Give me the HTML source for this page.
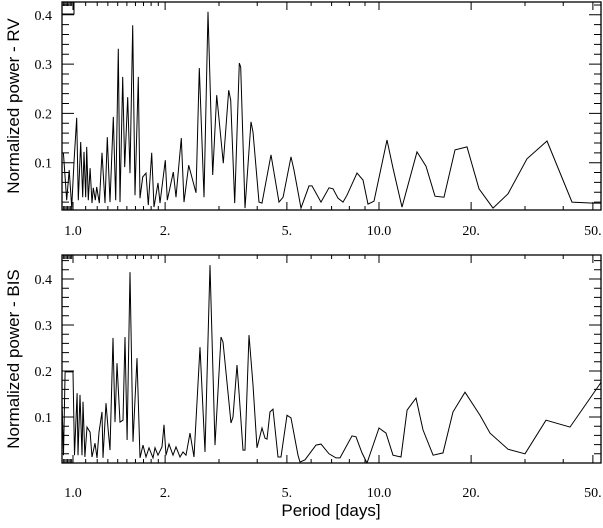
<!DOCTYPE html>
<html><head><meta charset="utf-8">
<style>
html,body{margin:0;padding:0;background:#fff;}
svg{display:block;}
.tl{font-family:"Liberation Serif",serif;font-size:14px;fill:#000;}
.tt{font-family:"Liberation Sans",sans-serif;font-size:17px;fill:#000;}
</style></head>
<body>
<svg id="chart" width="603" height="528" viewBox="0 0 603 528" xmlns="http://www.w3.org/2000/svg"></svg>
<script>
const rvPeriods=[0.930,0.954,0.972,0.990,1.008,1.028,1.041,1.060,1.076,1.086,1.100,1.109,1.122,1.137,1.154,1.165,1.183,1.195,1.219,1.244,1.272,1.294,1.321,1.354,1.379,1.406,1.424,1.453,1.476,1.509,1.536,1.567,1.595,1.635,1.656,1.690,1.732,1.762,1.808,1.839,1.896,1.924,2.003,2.033,2.127,2.171,2.259,2.305,2.388,2.523,2.587,2.680,2.762,2.861,2.949,3.099,3.227,3.276,3.376,3.495,3.532,3.648,3.817,3.875,4.053,4.146,4.438,4.713,4.858,5.158,5.276,5.561,5.905,6.04,6.465,6.865,7.075,7.345,7.627,7.86,8.475,8.866,9.207,9.632,10.62,11.11,11.89,13.31,14.24,15.24,16.31,17.72,19.39,21.23,23.58,26.40,30.45,35.40,42.73,50.04,53.57];
const rvPower=[0.120,0.024,0.085,0.010,0.105,0.191,0.024,0.142,0.030,0.122,0.030,0.132,0.024,0.089,0.018,0.049,0.024,0.051,0.018,0.120,0.018,0.152,0.020,0.193,0.024,0.331,0.020,0.274,0.091,0.233,0.079,0.379,0.034,0.274,0.028,0.071,0.079,0.014,0.120,0.010,0.059,0.018,0.105,0.024,0.081,0.030,0.150,0.020,0.095,0.039,0.292,0.030,0.406,0.075,0.237,0.099,0.247,0.227,0.018,0.302,0.294,0.008,0.183,0.162,0.020,0.018,0.116,0.020,0.030,0.112,0.085,0.008,0.053,0.053,0.020,0.049,0.047,0.028,0.020,0.034,0.079,0.065,0.016,0.022,0.146,0.089,0.010,0.122,0.093,0.032,0.030,0.126,0.132,0.047,0.008,0.037,0.108,0.144,0.020,0.018,0.018];
const bisPeriods=[0.921,0.931,0.942,1.000,1.011,1.031,1.038,1.054,1.070,1.078,1.094,1.111,1.137,1.154,1.180,1.198,1.216,1.244,1.253,1.282,1.301,1.321,1.351,1.372,1.392,1.424,1.457,1.479,1.502,1.536,1.571,1.619,1.656,1.693,1.732,1.772,1.826,1.854,1.896,1.954,1.984,2.014,2.060,2.122,2.171,2.237,2.288,2.341,2.412,2.486,2.600,2.700,2.804,2.911,3.045,3.091,3.283,3.333,3.435,3.487,3.594,3.648,3.760,3.875,3.993,4.146,4.241,4.305,4.404,4.504,4.677,4.784,5.004,5.158,5.437,5.519,5.731,6.226,6.465,6.865,7.236,7.459,8.163,8.412,8.799,9.138,10.00,10.54,11.11,11.80,12.35,13.21,13.93,15.02,16.19,17.45,19.10,21.38,23.06,26.40,30.00,35.14,42.09,52.76,53.57];
const bisPower=[0.126,0.017,0.198,0.198,0.017,0.152,0.017,0.148,0.017,0.133,0.013,0.078,0.067,0.013,0.043,0.011,0.067,0.111,0.011,0.130,0.076,0.028,0.272,0.089,0.217,0.089,0.093,0.274,0.050,0.415,0.046,0.228,0.011,0.039,0.013,0.033,0.011,0.033,0.017,0.035,0.083,0.017,0.041,0.017,0.035,0.013,0.024,0.017,0.065,0.013,0.252,0.024,0.430,0.039,0.274,0.263,0.087,0.100,0.213,0.154,0.028,0.028,0.278,0.170,0.033,0.076,0.054,0.052,0.111,0.117,0.013,0.013,0.104,0.098,0.017,0.002,0.007,0.039,0.041,0.020,0.011,0.011,0.059,0.057,0.022,0.000,0.076,0.065,0.017,0.013,0.115,0.141,0.072,0.017,0.022,0.111,0.154,0.104,0.065,0.030,0.020,0.093,0.078,0.172,0.180];
const xTickValues=[1,2,5,10,20,50];
const xTickLabels=["1.0","2.","5.","10.0","20.","50."];
const xMinorValues=[0.93,0.94,0.95,0.96,0.97,0.98,0.99,1.1,1.2,1.3,1.4,1.5,1.6,1.7,1.8,1.9,3,4,6,7,8,9,30,40];
const yTickValues=[0.1,0.2,0.3,0.4];
const yTickLabels=["0.1","0.2","0.3","0.4"];

const NS="http://www.w3.org/2000/svg";
const svg=document.getElementById('chart');
const L=62,R=601;
function xScale(p){return 73+306*Math.log10(p);}
const panels=[
 {top:2,bot:210,y0:212,k:493,per:rvPeriods,pow:rvPower,title:"Normalized power - RV",lab:235,key:'rv'},
 {top:255,bot:463,y0:463,k:460,per:bisPeriods,pow:bisPower,title:"Normalized power - BIS",lab:497,key:'bis'}
];
function mk(tag,attrs){const e=document.createElementNS(NS,tag);for(const a in attrs)e.setAttribute(a,attrs[a]);return e;}
panels.forEach((pn,i)=>{
 const yScale=v=>pn.y0-pn.k*v;
 const g=mk('g',{});
 
 
 svg.appendChild(g);
 const cp=mk('clipPath',{id:'clip'+i});
 cp.appendChild(mk('rect',{x:L,y:pn.top,width:R-L,height:pn.bot-pn.top}));
 svg.appendChild(cp);
 let d='';
 pn.per.forEach((p,j)=>{d+=(j?'L':'M')+xScale(p).toFixed(1)+' '+yScale(pn.pow[j]).toFixed(1);});
 const line=mk('path',{d:d,fill:'none',stroke:'#000','stroke-width':1,'clip-path':'url(#clip'+i+')'});
 
 
 g.appendChild(line);
 const frame=mk('rect',{x:L,y:pn.top,width:R-L,height:pn.bot-pn.top,fill:'none',stroke:'#000','stroke-width':1.3});
 
 
 g.appendChild(frame);
 let td='';
 xTickValues.forEach(v=>{const x=xScale(v);td+=`M${x} ${pn.top}v8M${x} ${pn.bot}v-8`;});
 xMinorValues.forEach(v=>{const x=xScale(v);if(x>L)td+=`M${x} ${pn.top}v4M${x} ${pn.bot}v-4`;});
 for(let v=0.02;v<0.46;v+=0.02){const y=yScale(v);if(y<pn.top+1||y>pn.bot-1)continue;const major=Math.abs(v*10-Math.round(v*10))<0.01;const len=major?12:7;td+=`M${L} ${y}h${len}M${R} ${y}h${-len}`;}
 const ticks=mk('path',{d:td,stroke:'#000','stroke-width':1,fill:'none'});
 
 
 g.appendChild(ticks);
 xTickValues.forEach((v,j)=>{
  const t=mk('text',{x:xScale(v),y:pn.lab,'text-anchor':'middle',class:'tl'});
  t.textContent=xTickLabels[j];
  
  
  g.appendChild(t);
 });
 yTickValues.forEach((v,j)=>{
  const t=mk('text',{x:52,y:yScale(v)+5,'text-anchor':'end',class:'tl'});
  t.textContent=yTickLabels[j];
  
  
  g.appendChild(t);
 });
 const cy=(pn.top+pn.bot)/2;
 const tt=mk('text',{x:0,y:0,'text-anchor':'middle',class:'tt',transform:`translate(19 ${cy}) rotate(-90)`});
 tt.textContent=pn.title;
 
 
 g.appendChild(tt);
});
const box=mk('rect',{x:62,y:2,width:12,height:12,fill:'none',stroke:'#000','stroke-width':1});


svg.appendChild(box);
const xt=mk('text',{x:331,y:516,'text-anchor':'middle',class:'tt'});
xt.textContent='Period [days]';


svg.appendChild(xt);
</script>
</body></html>
